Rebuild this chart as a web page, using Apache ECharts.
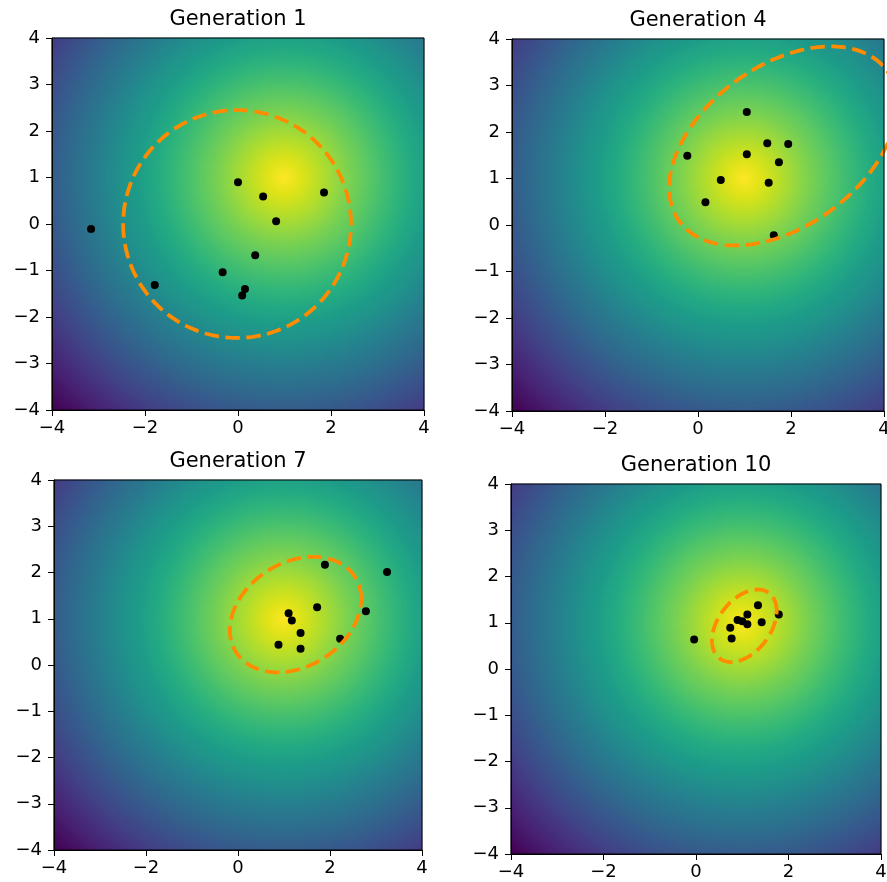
<!DOCTYPE html>
<html><head><meta charset="utf-8">
<script src="https://cdn.jsdelivr.net/npm/echarts@6/dist/echarts.min.js"></script>
<style>html,body{margin:0;padding:0;background:#fff}#c{width:887px;height:882px}</style>
</head><body><div id="c"></div>
<script>
// ---- data ----
const titles = ['Generation 1', 'Generation 4', 'Generation 7', 'Generation 10'];
const xTicks = [-4, -2, 0, 2, 4];
const yTicks = [-4, -3, -2, -1, 0, 1, 2, 3, 4];
const optimum = [1, 1]; // centre of the objective surface

const gen1X = [0.00, 0.54, 1.85, 0.82, -3.16, 0.37, -0.33, -1.79, 0.15, 0.09];
const gen1Y = [0.90, 0.59, 0.68, 0.06, -0.11, -0.67, -1.04, -1.31, -1.40, -1.54];
const gen4X = [1.05, 1.49, 1.94, -0.23, 1.05, 1.74, 0.49, 1.52, 0.16, 1.63];
const gen4Y = [2.43, 1.76, 1.74, 1.49, 1.52, 1.35, 0.97, 0.91, 0.49, -0.22];
const gen7X = [1.89, 3.24, 1.72, 1.10, 1.17, 2.78, 1.36, 0.88, 1.36, 2.22];
const gen7Y = [2.17, 2.01, 1.25, 1.12, 0.96, 1.16, 0.69, 0.44, 0.35, 0.57];
const gen10X = [-0.04, 0.74, 0.77, 0.90, 1.00, 1.11, 1.11, 1.34, 1.42, 1.79];
const gen10Y = [0.64, 0.89, 0.66, 1.06, 1.03, 1.18, 0.97, 1.38, 1.01, 1.18];

// dashed ellipse: centre and [sxx, sxy, syy] of its shape matrix
const ellipseCenters = [[-0.02, 0.00], [1.83, 1.70], [1.25, 1.09], [1.045, 0.935]];
const ellipseShapes = [[6.0, 0.0, 6.0], [6.0, 2.2, 4.58], [2.04, 0.48, 1.56], [0.49, 0.225, 0.616]];

// ---- layout / style ----
const gridRects = [
  {left: 52, top: 38, width: 372, height: 372},
  {left: 512, top: 39, width: 372, height: 372},
  {left: 54, top: 480, width: 368, height: 370},
  {left: 511, top: 484, width: 370, height: 370}
];
const viridis = ['#440154','#471365','#482475','#463480','#414487','#3b528b','#355f8d','#2f6c8e','#2a788e','#25848e','#21918c','#1e9c89','#22a884','#2fb47c','#44bf70','#5ec962','#7ad151','#9bd93c','#bddf26','#dfe318','#fde725'];
const FONT = 'DejaVu Sans';
const CELL = 2; // px per heatmap cell

const pointsX = [gen1X, gen4X, gen7X, gen10X];
const pointsY = [gen1Y, gen4Y, gen7Y, gen10Y];
const lo = xTicks[0], span = xTicks[xTicks.length - 1] - xTicks[0];

function surface(nx, ny) {
  const d = [];
  for (let i = 0; i < nx; i++) {
    const x = lo + (i + 0.5) * span / nx;
    for (let j = 0; j < ny; j++) {
      const y = lo + (j + 0.5) * span / ny;
      d.push([i, j, -Math.hypot(x - optimum[0], y - optimum[1])]);
    }
  }
  return d;
}
function ellipsePts(c, s) {
  const l11 = Math.sqrt(s[0]), l21 = s[1] / l11, l22 = Math.sqrt(s[2] - l21 * l21);
  const out = [];
  for (let k = 0; k <= 360; k++) {
    const t = k / 360 * 2 * Math.PI;
    out.push([c[0] + l11 * Math.cos(t), c[1] + l21 * Math.cos(t) + l22 * Math.sin(t)]);
  }
  return out;
}
const fmt = v => String(v).replace('-', '\u2212');

const grid = [], xAxis = [], yAxis = [], series = [], title = [], heatIdx = [];
let vmin = Infinity, vmax = -Infinity;
gridRects.forEach((r, p) => {
  const nx = Math.round(r.width / CELL), ny = Math.round(r.height / CELL);
  const heat = surface(nx, ny);
  heat.forEach(d => { vmin = Math.min(vmin, d[2]); vmax = Math.max(vmax, d[2]); });
  grid.push(Object.assign({}, r, {show: false, outerBoundsMode: 'none', containLabel: false}));
  grid.push(Object.assign({}, r, {show: true, borderColor: '#000', borderWidth: 1, backgroundColor: 'transparent', z: 10,
    outerBoundsMode: 'none', containLabel: false}));
  xAxis.push({type: 'category', gridIndex: 2 * p, data: Array.from({length: nx}, (_, i) => i), show: false});
  yAxis.push({type: 'category', gridIndex: 2 * p, data: Array.from({length: ny}, (_, i) => i), show: false});
  const lab = {fontSize: 18, color: '#000', fontFamily: FONT, formatter: fmt};
  const common = {type: 'value', gridIndex: 2 * p + 1, min: -4, max: 4, z: 10,
    axisLine: {show: true, onZero: false, lineStyle: {color: '#000', width: 1}},
    axisTick: {show: true, inside: false, length: 6, lineStyle: {color: '#000', width: 1}},
    splitLine: {show: false}};
  xAxis.push(Object.assign({interval: xTicks[1] - xTicks[0], axisLabel: Object.assign({margin: 9}, lab)}, common));
  yAxis.push(Object.assign({interval: yTicks[1] - yTicks[0], axisLabel: Object.assign({margin: 12}, lab)}, common));
  heatIdx.push(series.length);
  series.push({type: 'heatmap', xAxisIndex: 2 * p, yAxisIndex: 2 * p, data: heat, z: 1, progressive: 0, silent: true,
    itemStyle: {borderWidth: 0}});
  series.push({type: 'scatter', xAxisIndex: 2 * p + 1, yAxisIndex: 2 * p + 1, z: 2, symbolSize: 8,
    itemStyle: {color: '#000', opacity: 1},
    data: pointsX[p].map((x, k) => [x, pointsY[p][k]])});
  series.push({type: 'line', xAxisIndex: 2 * p + 1, yAxisIndex: 2 * p + 1, z: 3, symbol: 'none', clip: true,
    lineStyle: {color: '#ff8c00', width: 3.8, type: [14.5, 6.5]},
    data: ellipsePts(ellipseCenters[p], ellipseShapes[p])});
  title.push({text: titles[p], left: r.left + r.width / 2, top: r.top - 29, textAlign: 'center', padding: 0,
    textStyle: {fontSize: 21, fontWeight: 'normal', color: '#000', fontFamily: FONT}});
});

const chart = echarts.init(document.getElementById('c'), null, {renderer: 'canvas'});
chart.setOption({
  animation: false,
  backgroundColor: '#fff',
  title, grid, xAxis, yAxis, series,
  visualMap: {type: 'continuous', show: false, min: vmin, max: vmax, seriesIndex: heatIdx, inRange: {color: viridis}}
});
</script></body></html>
